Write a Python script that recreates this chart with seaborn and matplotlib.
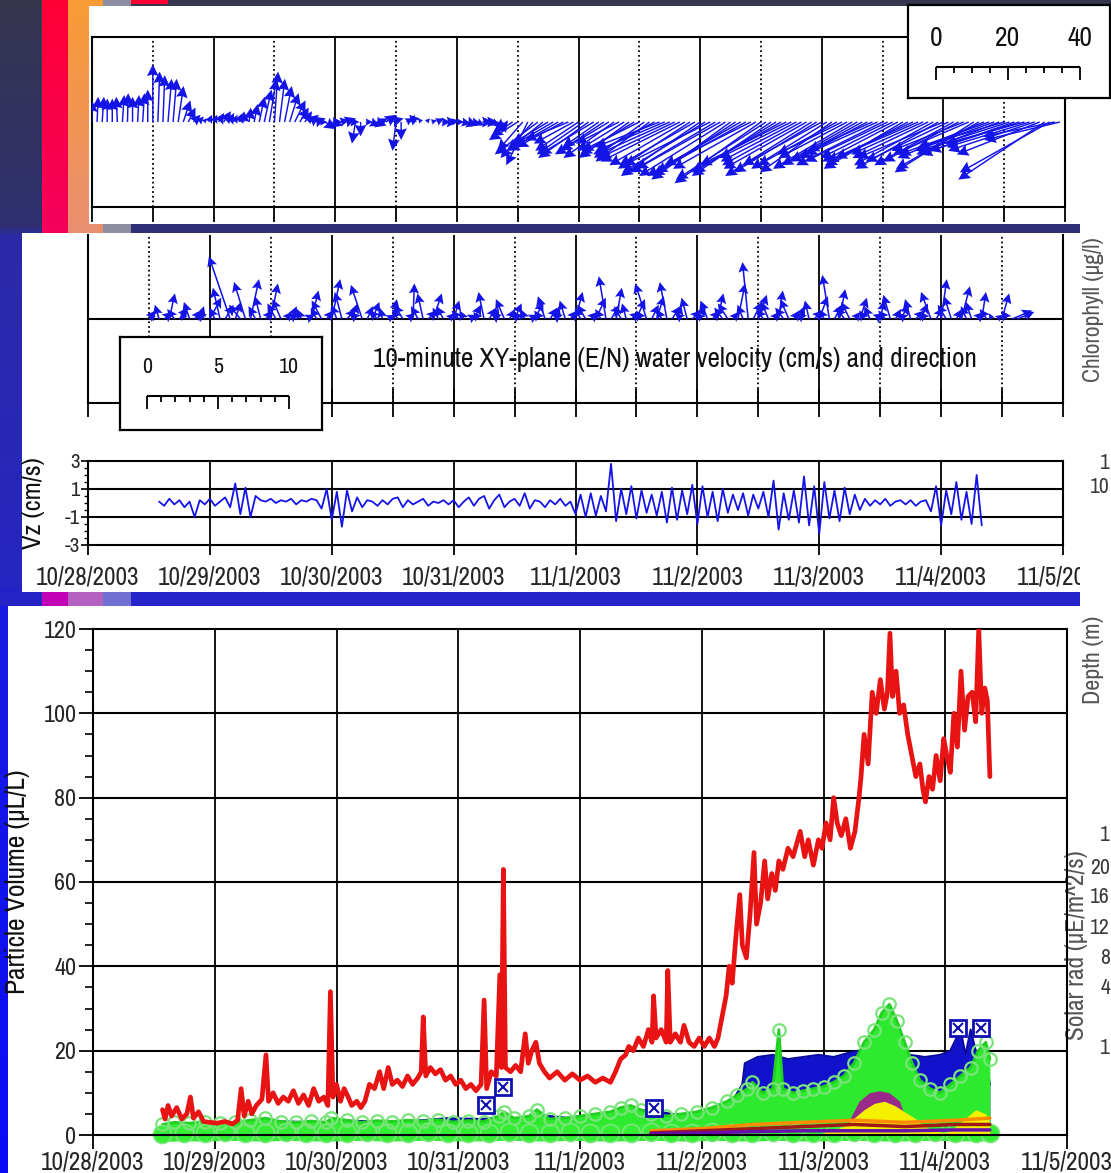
import numpy as np
import matplotlib
matplotlib.use("Agg")
import matplotlib.pyplot as plt
import seaborn as sns
from matplotlib import font_manager as fm
from matplotlib.patches import Rectangle
from matplotlib.colors import LinearSegmentedColormap
from matplotlib.ticker import MultipleLocator
from matplotlib.transforms import Bbox, TransformedBbox

# ---------------------------------------------------------------- data
DATE_LABELS = ["10/28/2003", "10/29/2003", "10/30/2003", "10/31/2003",
               "11/1/2003", "11/2/2003", "11/3/2003", "11/4/2003", "11/5/2003"]

# upper current meter: hourly east / north velocity (cm/s), hours after 10/28 00:00
STICK1_HOURS = list(range(0, 192))
STICK1_EAST = [0, 0.3, 0.5, 0, 0, -0.3, 0.5, 0.2, 0, 0.4, 0.5, 0, 0, 0.5, 0.5, 1, 1, 1.5, 2, 2,
               2, 1.5, 1, 1, 1, 1.5, 2, 1.5, 1, 1, 0, 0.5, 1, 1.5, 2, 2, 1, 1.5, 2, 2.5,
               3, 2.5, 2, 2.5, 3, 2, 3, 3.5, 2, 2.5, 3, 2.5, -1, 0, 2, 2.5, 3, 2, 3, 3.5,
               -1, 0, 2, 1, -2, -1, 1, 1.5, 2, 2.5, 3, 2, 2, 2.5, 3, 2.5, 2, 3, 3, 2,
               2, 1, -4, -6, -8, -7, -6, -9, -12, -10, -10, -12, -14, -13, -12, -11, -12, -13, -14, -15,
               -10, -12, -15, -14, -12, -13, -14, -15, -16, -14, -15, -17, -18, -19, -20, -21, -22, -21, -20, -21,
               -22, -23, -24, -22, -25, -24, -22, -23, -26, -25, -24, -23, -24, -25, -22, -23, -25, -24, -20, -21,
               -22, -23, -24, -23, -22, -21, -20, -22, -18, -19, -22, -21, -20, -19, -18, -20, -24, -23, -20, -21,
               -22, -23, -24, -23, -20, -21, -22, -23, -24, -23, -22, -21, -20, -21, -22, -23, -24, -25, -22, -23,
               -24, -25, -26, -25, -22, -23, -24, -23, -24, -25, -20, -21]
STICK1_NORTH = [6, 7, 7, 6.5, 6.5, 7, 7.5, 8, 7, 7.5, 8, 9, 16, 14, 13, 12, 12, 10, 6, 4,
                2, 1.5, 1, 2, 2, 2.5, 3, 2.5, 2, 2.5, 3, 4, 5, 7, 9, 12, 14, 12, 10, 8,
                6, 4, 3, 2, 1, 0, -2, -1, 0, 0.5, 1, 0, -6, -4, 0, -1, -1, 1, 2, 1,
                -8, -5, 1, 2, 2, 1, 1, 0.5, 1, 0, 0, 0.5, 0, -0.5, -1, -0.5, -1, 0, 0, -1,
                -2, -3, -3, -4, -5, -8, -12, -10, -9, -8, -6, -7, -8, -7, -5, -6, -8, -9, -10, -9,
                -7, -8, -9, -10, -6, -8, -10, -9, -8, -10, -11, -9, -7, -8, -9, -10, -11, -12, -13, -12,
                -15, -14, -12, -13, -14, -15, -16, -15, -15, -14, -12, -13, -17, -16, -15, -14, -14, -12, -10, -11,
                -12, -13, -15, -14, -12, -13, -14, -12, -9, -10, -13, -12, -11, -10, -8, -9, -12, -11, -10, -11,
                -13, -12, -11, -10, -9, -10, -12, -13, -10, -11, -12, -11, -8, -9, -14, -13, -10, -9, -8, -9,
                -7, -8, -9, -8, -6, -7, -8, -9, -16, -14, -4, -5]

# 10-minute XY-plane water velocity, sampled hourly (cm/s)
STICK2_HOURS = list(range(12, 184))
STICK2_EAST = [0.5, -0.4, -0.3, 0.6, 0.4, -0.5, 0.6, -0.3, -0.4, 0.5, 0.3, -0.6, 0.8, -0.4, -0.5, 0.6, -1.5, 0.4, -0.8, -0.8,
               0.6, -0.5, -0.4, 0.5, 0.5, -0.6, -0.6, 0.4, 0.4, -0.5, -0.3, 0.6, 0.5, -0.4, -0.7, 0.5, 0.6, -0.4, -0.5, 0.6,
               0.4, -0.5, -0.8, 0.4, 0.5, -0.6, -0.2, 0.5, 0.3, -0.4, -0.6, 0.5, 0.1, -0.5, -0.4, 0.6, 0.6, -0.4, -0.5, 0.4,
               0.4, -0.5, -0.3, 0.6, 0.5, -0.4, -0.4, 0.5, 0.3, -0.6, -0.6, 0.4, 0.5, -0.5, -0.3, 0.6, 0.6, -0.4, -0.5, 0.5,
               0.3, -0.6, -0.4, 0.5, 0.5, -0.4, -0.6, 0.5, 0.7, -0.4, -0.5, 0.6, 0.4, -0.5, -0.3, 0.6, 0.6, -0.4, -0.8, 0.5,
               0.5, -0.4, -0.5, 0.6, 0.3, -0.5, -0.4, 0.6, 0.6, -0.4, -0.5, 0.5, 0.4, -0.6, -0.7, 0.4, 0.5, -0.4, -0.4, 0.6,
               0.6, -0.5, -0.5, 0.4, 0.3, -0.6, -0.6, 0.4, 0.4, -0.5, -0.3, 0.6, 0.6, -0.4, -0.5, 0.5, 0.4, -0.6, -0.6, 0.4,
               0.5, -0.4, -0.4, 0.6, 0.3, -0.5, -0.5, 0.4, 0.6, -0.5, -0.4, 0.6, 0.5, -0.4, -0.7, 0.5, 0.4, -0.6, -0.5, 0.4,
               0.6, -0.4, -0.4, 0.5, 0.3, -0.5, -0.2, 0.4, 0.5, -0.4, 1.4, 1.2]
STICK2_NORTH = [0.6, 0.3, 1.0, 0.5, 1.8, 0.7, 0.8, 0.4, 1.2, 0.6, 0.9, 0.5, 1.5, 0.8, 2.2, 1.0, 4.4, 1.2, 1.0, 2.6,
                2.8, 0.9, 1.6, 0.6, 2.5, 1.1, 1.4, 0.5, 0.9, 0.4, 0.7, 0.3, 2.0, 0.8, 1.3, 0.6, 2.8, 1.0, 1.9, 0.7,
                1.1, 0.5, 2.4, 0.9, 1.2, 0.6, 0.8, 0.3, 1.4, 0.7, 1.0, 0.4, 2.5, 0.9, 1.8, 0.6, 1.8, 0.8, 0.9, 0.4,
                1.3, 0.6, 0.6, 0.3, 1.0, 0.5, 1.9, 0.8, 0.8, 0.4, 1.4, 0.7, 1.1, 0.5, 0.7, 0.3, 1.2, 0.6, 1.6, 0.8,
                0.9, 0.4, 1.3, 0.6, 1.9, 0.8, 1.0, 0.5, 1.5, 0.7, 3.0, 1.0, 2.2, 0.9, 1.1, 0.5, 1.4, 0.6, 2.5, 1.0,
                1.6, 0.7, 2.6, 0.9, 1.0, 0.4, 1.5, 0.6, 0.9, 0.4, 1.3, 0.6, 1.8, 0.8, 1.1, 0.5, 2.5, 1.0, 4.0, 1.2,
                1.7, 0.7, 1.2, 0.5, 2.0, 0.8, 1.4, 0.6, 0.9, 0.4, 1.3, 0.6, 1.6, 0.7, 3.1, 1.0, 2.1, 0.8, 1.2, 0.5,
                1.5, 0.6, 0.9, 0.4, 1.3, 0.6, 1.7, 0.7, 1.0, 0.4, 1.4, 0.6, 1.1, 0.5, 1.9, 0.8, 2.8, 1.0, 1.6, 0.7,
                2.3, 0.9, 1.2, 0.5, 1.9, 0.7, 0.4, 0.3, 1.8, 0.6, 0.6, 0.5]

# vertical velocity Vz (cm/s), hourly
VZ_HOURS = list(range(14, 177))
VZ_VALUES = [0.1, -0.2, 0.3, -0.1, 0.2, -0.3, 0.1, -1.0, 0.2, -0.1,
             0.3, -0.2, 0.1, 0.4, -0.3, 1.4, -0.8, 1.1, -1.0, 0.5,
             0.2, 0.1, 0.3, 0.0, 0.2, 0.1, 0.3, -0.1, 0.2, 0.1, 0.3, 0.2,
             -0.4, 1.0, -1.2, 0.8, -1.7, 0.9, -0.6, 0.4, -0.3, 0.2,
             0.1, -0.2, 0.2, -0.1, 0.3, 0.4, -0.3, 0.2, -0.1, 0.1, 0.3, -0.2, 0.1, 0.0, 0.2, -0.1,
             0.2, -0.3, 0.1, 0.4, -0.2, 0.3, 0.5, -0.4, 0.2, 0.6, -0.3, 0.1,
             0.3, -0.2, 0.7, -0.4, 0.2, 0.1, -0.3, 0.2, -0.1, 0.3, -0.2, 0.1,
             -0.8, 0.6, -1.0, 0.7, -0.9, 0.5, -0.6, 2.8, -1.3, 1.0, -0.8, 1.2, -1.1, 0.9, -0.7, 0.6,
             -0.9, 0.8, -1.4, 1.1, -1.2, 0.9, -0.8, 1.3, -1.5, 1.2, -1.0, 0.8, -1.3, 1.0, -0.7, 0.6,
             -0.5, 0.7, -0.9, 0.6, -0.4, 0.8, -1.0, 1.6, -1.9, 0.7, -1.2, 0.9,
             -1.4, 1.9, -1.6, 1.2, -2.2, 1.5, -1.1, 0.9, -1.3, 1.1, -0.8, 0.6,
             -0.5, 0.3, -0.2, 0.2, -0.1, 0.3, -0.2, 0.1, 0.2, -0.1, 0.2, -0.2, 0.1, 0.2,
             -0.6, 1.2, -1.6, 0.9, -0.8, 1.5, -1.2, 0.8, -1.5, 2.0, -1.6]

# total particle volume (uL/L)
RED_HOURS = [13.7, 14.2, 14.8, 15.5, 16.5, 17.5, 18.5, 19.2, 19.8, 20.8, 21.8, 23, 24.5, 26, 27.5,
             28.5, 29.2, 29.8, 30.6, 31.3, 32.2, 33.3, 34.1, 34.6, 35.5, 36.5, 37.5, 38.5, 39.5,
             40.5, 41.5, 42.5, 43.5, 44.5, 45.5, 46.3, 46.8, 47.3, 48, 48.8, 49.5, 50.3, 51, 52,
             52.8, 53.6, 54.5, 55.5, 56.5, 57.3, 58.2, 59, 60, 61, 62, 63, 64, 64.7, 65.1, 65.6,
             66.5, 67.5, 68.5, 69.5, 70.5, 71.5, 72.5, 73.5, 74.5, 75.5, 76.5, 77.1, 77.6, 78.5,
             79.5, 80.2, 80.5, 80.9, 81.3, 82.3, 83.3, 84.3, 85.2, 85.8, 86.5, 87.3, 88, 89, 90,
             91.5, 93, 94.5, 96, 97.5, 99, 100.5, 102, 103, 104, 105, 105.6, 106.5, 107.5, 108.5,
             109.5, 110.2, 110.5, 111, 112, 113, 113.3, 113.8, 114.8, 115.8, 116.5, 117.5, 118.5,
             119.5, 120.5, 121.5, 122.5, 123.2, 124, 124.8, 125.4, 126, 126.8, 127.5, 128, 128.8,
             129.5, 130.3, 130.8, 131.6, 132.4, 133, 133.8, 134.5, 135.2, 136, 137, 138, 139.4,
             140.3, 141, 142, 143, 143.7, 144.5, 145.3, 146, 146.7, 147.5, 148.4, 149.3, 150.2,
             151, 151.4, 152, 152.8, 153.6, 154.4, 155.2, 156, 156.6, 157.1, 157.6, 158.3, 159,
             159.8, 160.6, 161.4, 162.2, 163, 163.6, 164.1, 164.8, 165.5, 166.2, 167, 167.7,
             168.3, 169, 169.7, 170.4, 171.1, 171.8, 172.5, 173.3, 174, 174.6, 175.2, 175.8,
             176.3, 176.8]
RED_VALUES = [6, 3.8, 7, 4.5, 6.5, 3.8, 5, 9, 4, 5.5, 3.2, 3, 2.8, 3.2, 2.6,
              3.5, 11, 4.5, 8, 5, 7, 8.5, 19, 8, 10, 7.5, 9, 8, 10.5,
              7.5, 9.5, 7, 11, 8, 9, 7, 34, 9, 12, 8, 11, 9, 7, 8,
              6.5, 8, 12, 11, 15, 11, 16, 12, 13, 11.5, 14, 12, 13.5, 15, 28, 14,
              16, 14.5, 15.5, 13, 14, 12, 13, 11, 12, 10.5, 12, 32, 11, 15,
              14, 38, 16, 63, 16, 15, 16.5, 15, 24, 17, 20, 22, 17, 15, 13.5,
              15, 13, 14.5, 13, 14, 12.5, 13.5, 12.5, 15, 18, 19, 21, 20, 23, 21,
              25, 22, 33, 23, 25, 22, 39, 22, 24, 22, 26, 22, 21,
              23, 21, 23, 21, 23, 28, 33, 40, 36, 48, 57, 45, 42,
              52, 67, 50, 55, 65, 56, 62, 58, 65, 63, 68, 66, 72,
              66, 70, 64, 70, 68, 74, 70, 80, 74, 71, 75, 68, 72,
              80, 85, 95, 88, 105, 100, 108, 101, 105, 119, 104, 110, 100,
              102, 95, 90, 85, 88, 82, 79, 85, 82, 90, 84, 94,
              90, 86, 100, 92, 110, 96, 104, 105, 98, 120, 100, 106,
              103, 85]

# size-class volumes stacked beneath the total (uL/L)
GREEN_HOURS = [13.7, 16, 19, 22, 25, 28, 31, 34, 37, 40, 43, 46, 47, 50, 53, 56, 59, 62, 65, 68,
               71, 74, 77, 80, 81, 83, 86, 87.5, 90, 93, 96, 99, 102, 104, 106, 108, 110, 113,
               116, 119, 122, 125, 127, 129, 130, 132, 134, 135.2, 136, 138, 140, 142, 144, 146,
               148, 150, 152, 154, 155.5, 157, 158.5, 160, 161.5, 163, 165, 167, 169, 171, 173,
               174.5, 176, 176.8]
GREEN_VALUES = [2.5, 3, 2.8, 3.2, 2.9, 3, 3.5, 4, 3.2, 3, 3.3, 3, 4, 3.5, 3, 3.4, 3.2, 3.5, 3.3, 3.6,
                3.1, 3.4, 3.2, 4.5, 5.5, 4, 4.5, 6, 3.8, 4, 4.5, 5, 5.5, 6.5, 7, 6, 5, 4.5,
                5, 5.5, 6.5, 8, 9.5, 11, 12.5, 10, 11, 25, 11, 10, 10.5, 11, 11.5, 12.5,
                14, 17, 22, 25, 29, 31, 27, 22, 17, 13, 11, 10, 12, 14, 16,
                20, 22, 18]
# smallest size class, hugging the zero line
FINE_HOURS = [13.7, 18, 22, 26, 30, 34, 38, 42, 46, 50, 54, 58, 62, 66, 70, 74, 78, 82, 86, 90,
              94, 98, 102, 106, 110, 114, 118, 122, 126, 130, 134, 138, 142, 146, 150, 154, 158,
              162, 166, 170, 174, 176.8]
FINE_VALUES = [0.3, 0.5, 0.4, 0.6, 0.5, 0.4, 0.6, 0.5, 0.4, 0.5, 0.6, 0.4, 0.5, 0.6, 0.5, 0.4,
               0.5, 0.6, 0.5, 0.4, 0.6, 0.5, 0.4, 0.5, 0.6, 0.5, 0.4, 0.6, 0.5, 0.4, 0.6, 0.5,
               0.4, 0.5, 0.6, 0.5, 0.4, 0.5, 0.6, 0.5, 0.4, 0.5]
BLUE_HOURS = [13.7, 20, 26, 32, 38, 44, 50, 56, 62, 66, 70, 76, 82, 86, 90, 94, 98, 102, 106, 110,
              114, 118, 120, 123, 126, 128, 128.5, 131, 134, 137, 140, 143, 146, 149, 151, 153,
              156, 159, 161, 164, 167, 169, 171, 172, 173, 174, 176, 176.8]
BLUE_VALUES = [2, 2.3, 2.5, 3, 3.2, 3, 3.4, 3.2, 3.3, 3.6, 4, 3.8, 4.2, 3.5, 4.5, 4, 3.8, 4.2, 5.5, 6,
               5, 4.5, 5, 6.5, 8, 12, 17, 18.5, 19, 18, 18.5, 19, 18.5, 19.5, 20, 14,
               12, 15, 19, 18.5, 19, 20, 25, 19, 25, 20, 19, 12]
BLUE_MARK_HOURS = [77.5, 80.9, 110.5, 170.5, 175]
BLUE_MARK_VALUES = [7.2, 11.5, 6.3, 25.4, 25.4]
YELLOW_HOURS = [144, 148, 150, 152, 154, 156, 158, 160, 162, 164, 166, 168, 170, 172, 174, 176, 176.8]
YELLOW_VALUES = [0.5, 2, 4, 6, 7.5, 8, 7, 5.5, 4, 2, 1, 0.5, 2, 4, 6, 5, 3]
MAROON_HOURS = [148, 151, 153, 155, 157, 159, 161]
MAROON_VALUES = [1, 8, 10, 10.5, 10, 8, 1]
LOW_HOURS = [110, 120, 130, 140, 150, 160, 170, 176.8]
ORANGE_VALUES = [1, 1.5, 2.5, 3, 3.5, 3, 3.5, 4]
BROWN_VALUES = [0.5, 1, 1.5, 2, 2.5, 2, 2.5, 2.5]
VIOLET_VALUES = [0.3, 0.5, 0.8, 1, 1, 1, 1.2, 1.2]

CAPTION = "10-minute XY-plane (E/N) water velocity (cm/s) and direction"

# ---------------------------------------------------------------- style
sns.set_theme(style="white")
_fonts = fm.fontManager.ttflist
_narrow = [f.name for f in _fonts if "narrow" in f.name.lower() or "condensed" in f.name.lower()]
if _narrow:
    plt.rcParams["font.family"] = [_narrow[0], "DejaVu Sans"]
elif any(f.name == "DejaVu Sans" and f.stretch == "condensed" for f in _fonts):
    plt.rcParams["font.family"] = ["DejaVu Sans"]
    plt.rcParams["font.stretch"] = "condensed"
else:
    plt.rcParams["font.family"] = ["Liberation Sans", "DejaVu Sans"]
plt.rcParams["axes.unicode_minus"] = False

BLUE = "#1414E6"
RED = "#E81414"
W, H = 1111, 1173
fig = plt.figure(figsize=(W / 100, H / 100), dpi=100)
_renderer = fig.canvas.get_renderer()


def size_for(s, target_px):
    """Font size at which the string s spans target_px pixels."""
    t = fig.text(0, 0, s, fontsize=20)
    w = t.get_window_extent(_renderer).width
    t.remove()
    return 20 * target_px / w


DATE_FS = size_for("10/28/2003", 104)
YTICK_FS = size_for("120", 33)
VZTICK_FS = size_for("-1", 15)
CAPTION_FS = size_for(CAPTION, 605)
PV_FS = size_for("Particle Volume (µL/L)", 225)
VZ_FS = size_for("Vz (cm/s)", 92)
KEY_FS = size_for("40", 25)
KEY2_FS = size_for("10", 20)


def box(x0, y0, x1, y1):
    return [x0 / W, 1 - y1 / H, (x1 - x0) / W, (y1 - y0) / H]


# slide background and frames
canvas = fig.add_axes([0, 0, 1, 1])
canvas.axis("off")


def gradient(x0, y0, x1, y1, stops, z):
    cmap = LinearSegmentedColormap.from_list("grad", stops)
    canvas.imshow(np.linspace(0, 1, 256)[:, None], cmap=cmap, aspect="auto",
                  extent=(x0, x1, y1, y0), origin="upper", zorder=z,
                  interpolation="bilinear")


def rect(x0, y0, x1, y1, color, z=2):
    canvas.add_patch(Rectangle((x0, y0), x1 - x0, y1 - y0, facecolor=color,
                               edgecolor="none", zorder=z))


gradient(0, 0, W, H, [(0, "#36364F"), (0.19, "#2F2F70"), (0.2, "#2B2BA8"),
                      (0.5, "#2525C2"), (0.515, "#1A1AE0"), (1, "#0B0BF8")], 0)
gradient(42, 0, 68, 233, ["#FF0035", "#F5005C"], 1)
gradient(68, 0, 103, 233, ["#F99B35", "#E98F72"], 1)
rect(103, 0, 131, 6, "#8D8DA2")
rect(103, 224, 131, 233, "#8D8DA2")
rect(131, 0, 168, 4, "#FF0030")
rect(131, 224, 1080, 233, "#2F2F78")
rect(89, 6, W, 224, "white", 3)
rect(1080, 224, W, H, "white")
rect(22, 233, 1080, 592, "white")
for x0, x1, c in [(0, 42, "#2323C6"), (42, 68, "#C200B6"), (68, 103, "#B462C2"),
                  (103, 131, "#6F70D2"), (131, 1080, "#2424C8")]:
    rect(x0, 592, x1, 606, c)
rect(8, 606, W, H, "white")

faint = dict(rotation=90, ha="center", va="center", color="#555555", zorder=4)
canvas.text(1093, 310, "Chlorophyll (µg/l)", fontsize=size_for("Chlorophyll (µg/l)", 145), **faint)
canvas.text(1093, 660, "Depth (m)", fontsize=size_for("Depth (m)", 88), **faint)
canvas.text(1076, 945, "Solar rad (µE/m^2/s)", fontsize=size_for("Solar rad (µE/m^2/s)", 190), **faint)
for y, s in [(463, "1"), (487, "10"), (835, "1"), (868, "20"), (897, "16"), (928, "12"),
             (958, "8"), (988, "4"), (1048, "1")]:
    canvas.text(1110, y, s, ha="right", va="center", fontsize=YTICK_FS * 0.9,
                color="#3A3A3A", zorder=4)
canvas.set_xlim(0, W)
canvas.set_ylim(H, 0)


def frame(ax, lw=1.5):
    for s in ax.spines.values():
        s.set_color("black")
        s.set_linewidth(lw)


def day_grid(ax, dotted=True):
    for d in range(1, 8):
        ax.axvline(d, color="black", lw=1.3, zorder=1)
    if dotted:
        for d in np.arange(0.5, 8, 1):
            ax.axvline(d, color="black", lw=1.3, ls=(0, (1, 1.6)), zorder=1)


# ---------------------------------------------------------------- stick plot 1
axA = fig.add_axes(box(92, 37, 1065, 207), facecolor="none")
axA.set_xlim(0, 8)
axA.set_ylim(-23.6, 23.6)
day_grid(axA)
tA = np.array(STICK1_HOURS) / 24
axA.quiver(tA, np.zeros_like(tA), np.array(STICK1_EAST) * 3.6 / 121.6, STICK1_NORTH,
           angles="xy", scale_units="xy", scale=1, color=BLUE, width=0.0015,
           headwidth=8, headlength=8, headaxislength=7, zorder=3)
axA.set_xticks(np.arange(0, 8.01, 0.5))
axA.set_xticklabels([])
axA.set_yticks([])
axA.tick_params(axis="x", bottom=True, direction="out", length=11, width=1.3, color="black")
frame(axA)

# ---------------------------------------------------------------- stick plot 2
axB = fig.add_axes(box(88, 235, 1063, 403), facecolor="none")
axB.set_xlim(0, 8)
axB.set_ylim(-5.9, 5.9)
day_grid(axB)
axB.axhline(0, color="black", lw=1.5, zorder=2)
tB = np.array(STICK2_HOURS) / 24
axB.quiver(tB, np.zeros_like(tB), np.array(STICK2_EAST) * 14.2 / 121.9, STICK2_NORTH,
           angles="xy", scale_units="xy", scale=1, color=BLUE, width=0.0016,
           headwidth=6.5, headlength=6.5, headaxislength=5.5, zorder=3)
axB.set_xticks(np.arange(0, 8.01, 0.5))
axB.set_xticklabels([])
axB.set_yticks([])
axB.tick_params(axis="x", bottom=True, direction="inout", length=20, width=1.3, color="black")
frame(axB)
axB.spines["top"].set_visible(False)
axB.text(0.602, 0.256, CAPTION, transform=axB.transAxes, ha="center", va="center",
         fontsize=CAPTION_FS, color="#111111")

# ---------------------------------------------------------------- Vz
axV = fig.add_axes(box(88, 461, 1063, 545), facecolor="none")
sns.lineplot(x=np.array(VZ_HOURS) / 24, y=VZ_VALUES, ax=axV, color=BLUE, lw=1.3, zorder=3)
axV.set_xlim(0, 8)
axV.set_ylim(-3, 3)
for y in (1, -1):
    axV.axhline(y, color="black", lw=1.5, zorder=1)
day_grid(axV, dotted=False)
axV.set_yticks([3, 1, -1, -3])
axV.set_yticklabels(["3", "1", "-1", "-3"])
axV.yaxis.set_minor_locator(MultipleLocator(0.5))
axV.tick_params(axis="y", which="major", left=True, direction="out", length=5, width=1.2,
                labelsize=VZTICK_FS, pad=1, color="black")
axV.tick_params(axis="y", which="minor", left=True, direction="out", length=3, width=1,
                color="black")
axV.set_xticks(range(len(DATE_LABELS)))
axV.set_xticklabels(DATE_LABELS)
axV.tick_params(axis="x", bottom=True, direction="out", length=7, width=1.3,
                labelsize=DATE_FS, pad=8, color="black")
axV.set_xlabel("")
axV.set_ylabel("Vz (cm/s)", fontsize=VZ_FS, color="#111111")
axV.yaxis.set_label_coords(-0.044, 0.5)
frame(axV)
clip = TransformedBbox(Bbox.from_extents(0, 0, 1080 / W, 1), fig.transFigure)
for lbl in axV.get_xticklabels():
    lbl.set_clip_box(clip)
    lbl.set_clip_on(True)

# ---------------------------------------------------------------- particle volume
axC = fig.add_axes(box(93, 629, 1067, 1135), facecolor="none")
axC.set_xlim(0, 8)
axC.set_ylim(0, 120)
for y in range(20, 120, 20):
    axC.axhline(y, color="black", lw=1.5, zorder=0.5)
day_grid(axC, dotted=False)

gd = np.array(GREEN_HOURS) / 24
bd = np.array(BLUE_HOURS) / 24
yd = np.array(YELLOW_HOURS) / 24
md = np.array(MAROON_HOURS) / 24
ld = np.array(LOW_HOURS) / 24
fd = np.array(FINE_HOURS) / 24
axC.fill_between(bd, 0, BLUE_VALUES, color="#1212CC", lw=0, zorder=2)
sns.lineplot(x=bd, y=BLUE_VALUES, ax=axC, color="#0A0AA0", lw=1.5, zorder=2.1)
axC.fill_between(gd, 0, GREEN_VALUES, color="#2EEA2E", lw=0, zorder=2.2)
sns.lineplot(x=gd, y=GREEN_VALUES, ax=axC, color="#22D022", lw=2, zorder=2.3)
fine = axC.plot(fd, FINE_VALUES, ls="-", lw=12, color="#33EE33", marker="o", ms=13,
                mfc="#33EE33", mec="#7FE57F", mew=1.2, zorder=2.32)
for artist in fine:
    artist.set_clip_on(False)
axC.fill_between(md, 0, MAROON_VALUES, color="#9A2A8A", lw=0, zorder=2.35)
axC.fill_between(yd, 0, YELLOW_VALUES, color="#F5F000", lw=0, zorder=2.4)
for vals, col in [(ORANGE_VALUES, "#FF8C00"), (BROWN_VALUES, "#A01818"),
                  (VIOLET_VALUES, "#6A0DAD")]:
    sns.lineplot(x=ld, y=vals, ax=axC, color=col, lw=2.5, zorder=2.5)
axC.plot(gd, GREEN_VALUES, ls="none", marker="o", ms=9, mfc="none", mec="#7BE37B",
         mew=1.6, zorder=2.6)
bm = np.array(BLUE_MARK_HOURS) / 24
axC.plot(bm, BLUE_MARK_VALUES, ls="none", marker="s", ms=11, mfc="white", mec="#1010B0",
         mew=2, zorder=2.7)
axC.plot(bm, BLUE_MARK_VALUES, ls="none", marker="x", ms=7, mec="#1010B0", mew=1.5, zorder=2.8)
sns.lineplot(x=np.array(RED_HOURS) / 24, y=RED_VALUES, ax=axC, color=RED, lw=3.4, zorder=3)

axC.set_yticks(range(0, 121, 20))
axC.yaxis.set_minor_locator(MultipleLocator(5))
axC.tick_params(axis="y", which="major", left=True, direction="out", length=10, width=1.3,
                labelsize=YTICK_FS, pad=2, color="black")
axC.tick_params(axis="y", which="minor", left=True, direction="out", length=6, width=1.2,
                color="black")
axC.set_xticks(range(len(DATE_LABELS)))
axC.set_xticklabels(DATE_LABELS)
axC.tick_params(axis="x", bottom=True, direction="out", length=10, width=1.3,
                labelsize=DATE_FS, pad=1.5, color="black")
axC.set_xlabel("")
axC.set_ylabel("Particle Volume (µL/L)", fontsize=PV_FS, color="#111111")
axC.yaxis.set_label_coords(-0.065, 0.5)
frame(axC)


# ---------------------------------------------------------------- velocity scale keys
def scale_key(rect_px, px_per_unit, zero_px, ticks, long_ticks, bar_y, size):
    x0, y0, x1, y1 = rect_px
    ax = fig.add_axes(box(*rect_px), facecolor="white")
    ax.set_xlim((x0 - zero_px) / px_per_unit, (x1 - zero_px) / px_per_unit)
    ax.set_ylim(y1 - y0, 0)
    ax.set_xticks([])
    ax.set_yticks([])
    frame(ax, 1.6)
    ax.hlines(bar_y, ticks[0], ticks[-1], color="black", lw=1.5)
    for t in ticks:
        ln = 13 if t in long_ticks else 6
        ax.vlines(t, bar_y, bar_y + ln, color="black", lw=1.3)
    for t in long_ticks:
        ax.text(t, bar_y - 29, f"{t}", ha="center", va="center", fontsize=size, color="#111111")
    return ax


scale_key((908, 5, 1110, 98), 3.6, 936, list(range(0, 41, 5)), [0, 20, 40], 62, KEY_FS)
scale_key((120, 337, 322, 430), 14.2, 147, list(range(0, 11)), [0, 5, 10], 59, KEY2_FS)

fig.savefig("out.png", dpi=100)
